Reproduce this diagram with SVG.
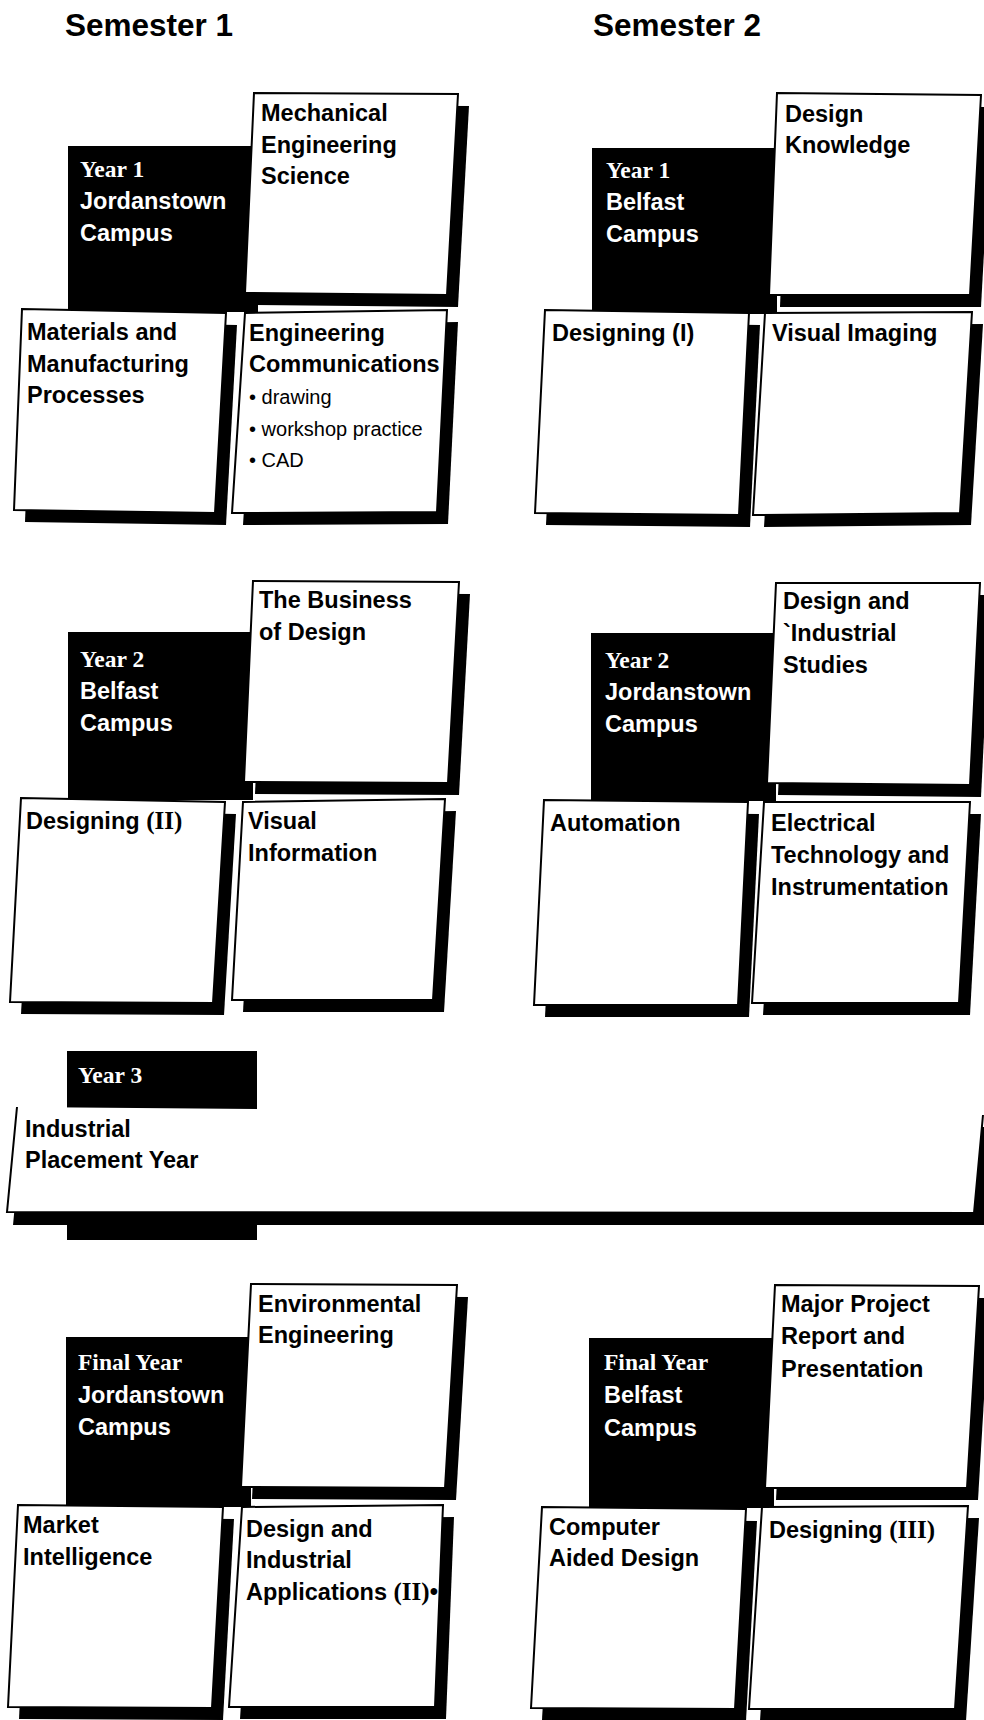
<svg xmlns="http://www.w3.org/2000/svg" width="984" height="1720" viewBox="0 0 984 1720">
<style>
.bg{fill:#fff}
.lab{fill:#000}
.sh{fill:#000}
.box{fill:#fff;stroke:#000;stroke-width:2;stroke-linejoin:miter}
.m{font-family:"Liberation Sans",Arial,sans-serif;font-weight:bold;font-size:23.5px;fill:#000}
.w{font-family:"Liberation Sans",Arial,sans-serif;font-weight:bold;font-size:23.5px;fill:#fff}
.yr{font-family:"Liberation Serif","Times New Roman",serif;font-weight:bold;font-size:23.5px;fill:#fff}
.rom{font-family:"Liberation Serif","Times New Roman",serif;font-weight:bold;font-size:25px}
.b{font-family:"Liberation Sans",Arial,sans-serif;font-size:20px;fill:#000}
.hd{font-family:"Liberation Sans",Arial,sans-serif;font-weight:bold;font-size:31.5px;fill:#000}
</style>
<rect class="bg" x="0" y="0" width="984" height="1720"/>
<g id="headers">
<text class="hd" x="65" y="36">Semester 1</text>
<text class="hd" x="593" y="36">Semester 2</text>
</g>
<g id="connectors"/>

<g id="y1s1">
<rect class="lab" x="68" y="146" width="190" height="166"/>
<polygon class="sh" points="265,105 469,106 458,307 256,305"/>
<polygon class="box" points="254,93 458,94 447,295 245,293"/>
<polygon class="sh" points="33,321 237,325 226,525 25,522"/>
<polygon class="box" points="22,309 226,313 215,513 14,510"/>
<polygon class="sh" points="256,325 458,322 448,524 243,525"/>
<polygon class="box" points="245,313 447,310 437,512 232,513"/>
<text class="yr" x="80" y="177">Year 1</text>
<text class="w" x="80" y="209">Jordanstown</text>
<text class="w" x="80" y="241">Campus</text>
<text class="m" x="261" y="121">Mechanical</text>
<text class="m" x="261" y="153">Engineering</text>
<text class="m" x="261" y="184">Science</text>
<text class="m" x="27" y="340">Materials and</text>
<text class="m" x="27" y="372">Manufacturing</text>
<text class="m" x="27" y="403">Processes</text>
<text class="m" x="249" y="341">Engineering</text>
<text class="m" x="249" y="372">Communications</text>
<text class="b" x="249" y="404">• drawing</text>
<text class="b" x="249" y="436">• workshop practice</text>
<text class="b" x="249" y="467">• CAD</text>
</g>

<g id="y1s2">
<rect class="lab" x="592" y="148" width="185" height="166"/>
<polygon class="sh" points="788,105 992,107 981,307 780,307"/>
<polygon class="box" points="777,93 981,95 970,295 769,295"/>
<polygon class="sh" points="556,322 760,325 750,527 546,525"/>
<polygon class="box" points="545,310 749,313 739,515 535,513"/>
<polygon class="sh" points="776,325 983,324 971,525 764,527"/>
<polygon class="box" points="765,313 972,312 960,513 753,515"/>
<text class="yr" x="606" y="178">Year 1</text>
<text class="w" x="606" y="210">Belfast</text>
<text class="w" x="606" y="242">Campus</text>
<text class="m" x="785" y="122">Design</text>
<text class="m" x="785" y="153">Knowledge</text>
<text class="m" x="552" y="341">Designing (I)</text>
<text class="m" x="772" y="341">Visual Imaging</text>
</g>

<g id="y2s1">
<rect class="lab" x="68" y="632" width="185" height="168"/>
<polygon class="sh" points="264,593 470,594 459,795 255,794"/>
<polygon class="box" points="253,581 459,582 448,783 244,782"/>
<polygon class="sh" points="32,810 236,814 224,1015 21,1014"/>
<polygon class="box" points="21,798 225,802 213,1003 10,1002"/>
<polygon class="sh" points="254,814 456,811 444,1012 243,1012"/>
<polygon class="box" points="243,802 445,799 433,1000 232,1000"/>
<text class="yr" x="80" y="667">Year 2</text>
<text class="w" x="80" y="699">Belfast</text>
<text class="w" x="80" y="731">Campus</text>
<text class="m" x="259" y="608">The Business</text>
<text class="m" x="259" y="640">of Design</text>
<text class="m" x="26" y="829">Designing <tspan class="rom">(II)</tspan></text>
<text class="m" x="248" y="829">Visual</text>
<text class="m" x="248" y="861">Information</text>
</g>

<g id="y2s2">
<rect class="lab" x="591" y="633" width="185" height="168"/>
<polygon class="sh" points="787,595 991,595 981,797 778,795"/>
<polygon class="box" points="776,583 980,583 970,785 767,783"/>
<polygon class="sh" points="555,812 759,814 749,1017 545,1017"/>
<polygon class="box" points="544,800 748,802 738,1005 534,1005"/>
<polygon class="sh" points="775,814 981,814 970,1015 763,1015"/>
<polygon class="box" points="764,802 970,802 959,1003 752,1003"/>
<text class="yr" x="605" y="668">Year 2</text>
<text class="w" x="605" y="700">Jordanstown</text>
<text class="w" x="605" y="732">Campus</text>
<text class="m" x="783" y="609">Design and</text>
<text class="m" x="783" y="641">`Industrial</text>
<text class="m" x="783" y="673">Studies</text>
<text class="m" x="550" y="831">Automation</text>
<text class="m" x="771" y="831">Electrical</text>
<text class="m" x="771" y="863">Technology and</text>
<text class="m" x="771" y="895">Instrumentation</text>
</g>

<g id="y3">
<rect class="lab" x="67" y="1051" width="190" height="189"/>
<polygon class="sh" points="23,1119 994,1127 985,1225 13,1225"/>
<polygon fill="#fff" points="17,1107 983,1115 974,1213 7,1212"/>
<polyline fill="none" stroke="#000" stroke-width="2" points="17,1107 7,1212 974,1213 983,1115"/>
<text class="yr" x="78" y="1083">Year 3</text>
<text class="m" x="25" y="1137">Industrial</text>
<text class="m" x="25" y="1168">Placement Year</text>
</g>

<g id="fys1">
<rect class="lab" x="66" y="1337" width="185" height="170"/>
<polygon class="sh" points="262,1296 468,1297 456,1500 252,1499"/>
<polygon class="box" points="251,1284 457,1285 445,1488 241,1487"/>
<polygon class="sh" points="29,1517 234,1519 223,1720 19,1719"/>
<polygon class="box" points="18,1505 223,1507 212,1708 8,1707"/>
<polygon class="sh" points="253,1519 454,1517 446,1719 240,1719"/>
<polygon class="box" points="242,1507 443,1505 435,1707 229,1707"/>
<text class="yr" x="78" y="1370">Final Year</text>
<text class="w" x="78" y="1403">Jordanstown</text>
<text class="w" x="78" y="1435">Campus</text>
<text class="m" x="258" y="1312">Environmental</text>
<text class="m" x="258" y="1343">Engineering</text>
<text class="m" x="23" y="1533">Market</text>
<text class="m" x="23" y="1565">Intelligence</text>
<text class="m" x="246" y="1537">Design and</text>
<text class="m" x="246" y="1568">Industrial</text>
<text class="m" x="246" y="1600">Applications <tspan class="rom">(II)</tspan>•</text>
</g>

<g id="fys2">
<rect class="lab" x="589" y="1338" width="185" height="170"/>
<polygon class="sh" points="786,1297 990,1298 978,1500 776,1500"/>
<polygon class="box" points="775,1285 979,1286 967,1488 765,1488"/>
<polygon class="sh" points="553,1519 757,1521 746,1721 542,1720"/>
<polygon class="box" points="542,1507 746,1509 735,1709 531,1708"/>
<polygon class="sh" points="773,1519 979,1518 966,1721 760,1721"/>
<polygon class="box" points="762,1507 968,1506 955,1709 749,1709"/>
<text class="yr" x="604" y="1370">Final Year</text>
<text class="w" x="604" y="1403">Belfast</text>
<text class="w" x="604" y="1436">Campus</text>
<text class="m" x="781" y="1312">Major Project</text>
<text class="m" x="781" y="1344">Report and</text>
<text class="m" x="781" y="1377">Presentation</text>
<text class="m" x="549" y="1535">Computer</text>
<text class="m" x="549" y="1566">Aided Design</text>
<text class="m" x="769" y="1538">Designing <tspan class="rom">(III)</tspan></text>
</g>
</svg>
